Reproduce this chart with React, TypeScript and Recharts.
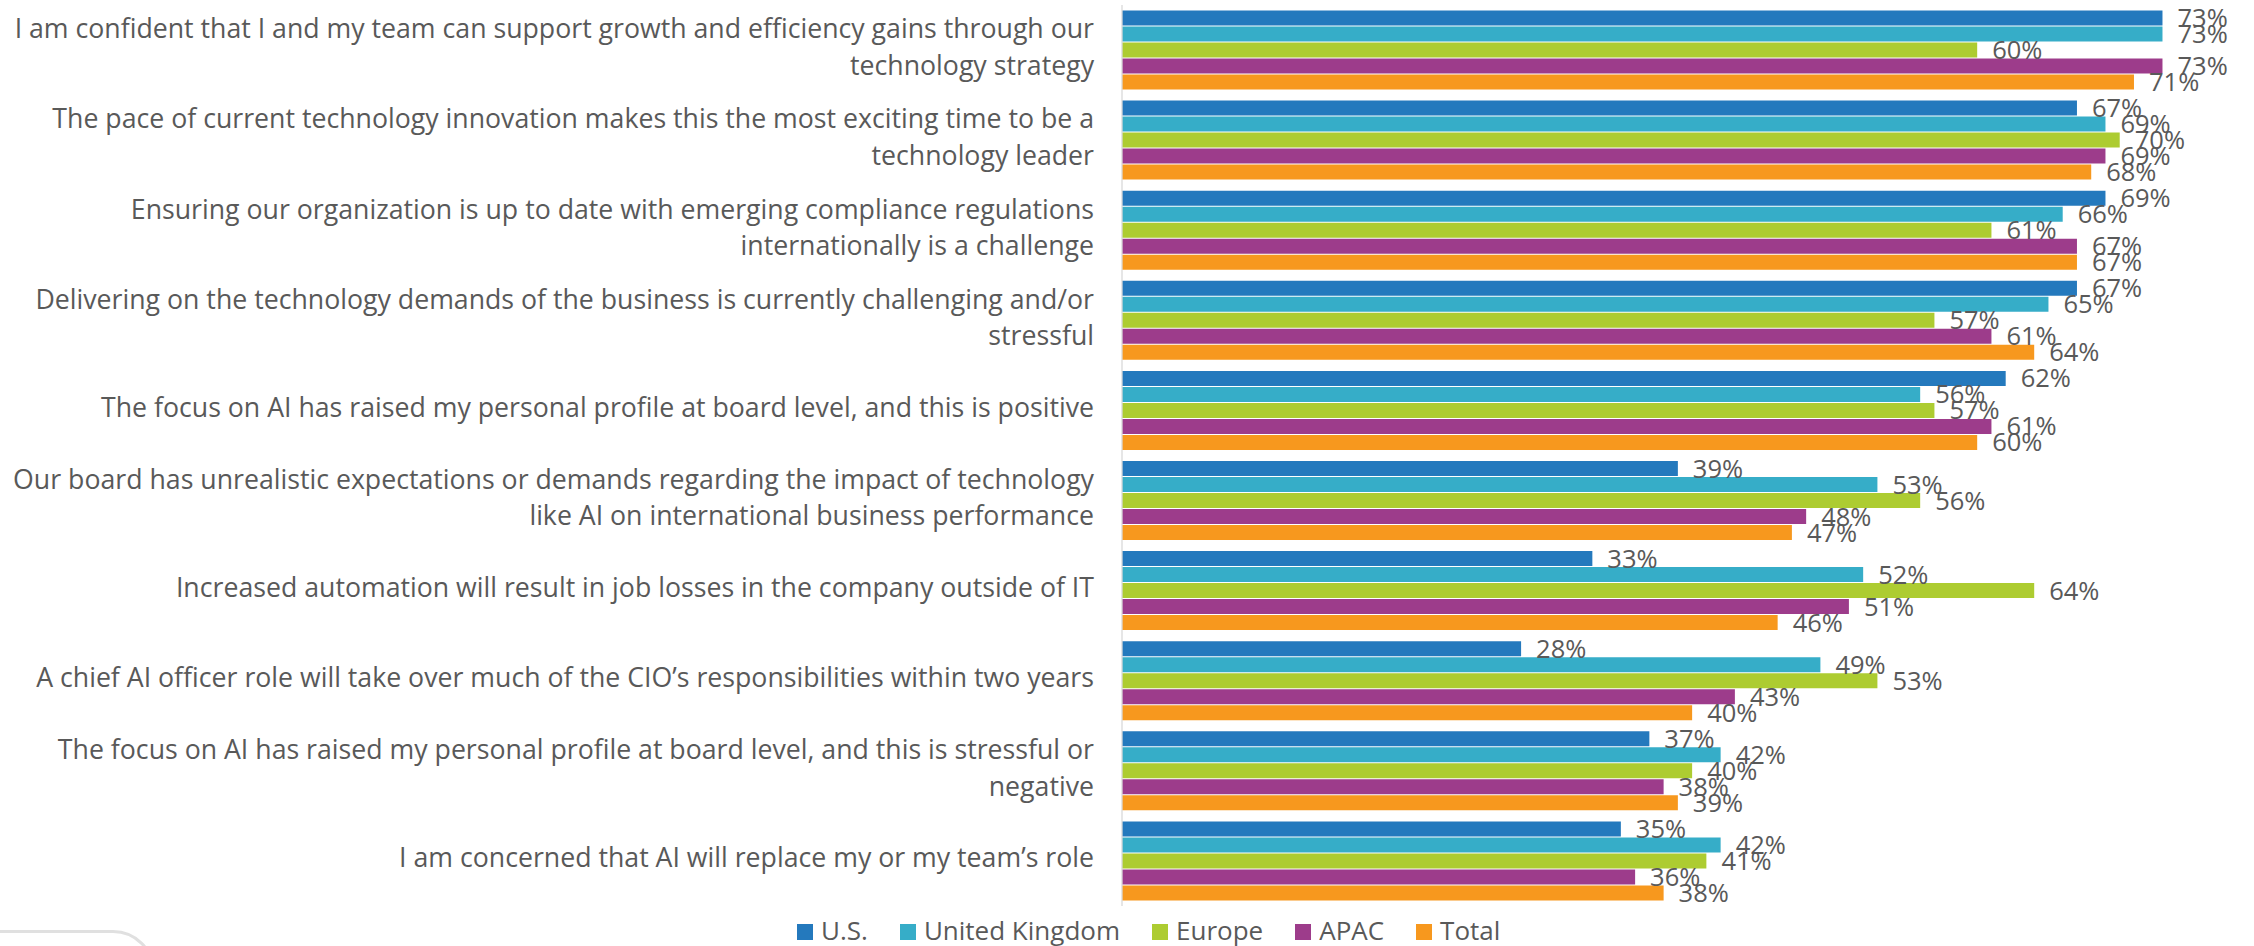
import React from 'react';
import { BarChart, Bar, XAxis, YAxis, Legend, LabelList } from 'recharts';

// statement text, already broken into the lines used on the axis
const categoryLines: string[][] = [
  ['I am confident that I and my team can support growth and efficiency gains through our', 'technology strategy'],
  ['The pace of current technology innovation makes this the most exciting time to be a', 'technology leader'],
  ['Ensuring our organization is up to date with emerging compliance regulations', 'internationally is a challenge'],
  ['Delivering on the technology demands of the business is currently challenging and/or', 'stressful'],
  ['The focus on AI has raised my personal profile at board level, and this is positive'],
  ['Our board has unrealistic expectations or demands regarding the impact of technology', 'like AI on international business performance'],
  ['Increased automation will result in job losses in the company outside of IT'],
  ['A chief AI officer role will take over much of the CIO\u2019s responsibilities within two years'],
  ['The focus on AI has raised my personal profile at board level, and this is stressful or', 'negative'],
  ['I am concerned that AI will replace my or my team\u2019s role'],
];
const categories = categoryLines.map((l) => l.join(' '));

const seriesKeys = ['us', 'uk', 'europe', 'apac', 'total'];
const seriesNames = ['U.S.', 'United Kingdom', 'Europe', 'APAC', 'Total'];
const seriesColors = ['#2479BD', '#36ADC8', '#ADCC31', '#9D3C8B', '#F7981E'];

const us = [73, 67, 69, 67, 62, 39, 33, 28, 37, 35];
const uk = [73, 69, 66, 65, 56, 53, 52, 49, 42, 42];
const europe = [60, 70, 61, 57, 57, 56, 64, 53, 40, 41];
const apac = [73, 69, 67, 61, 61, 48, 51, 43, 38, 36];
const total = [71, 68, 67, 64, 60, 47, 46, 40, 39, 38];

const seriesValues = [us, uk, europe, apac, total];

const data = categories.map((c, i) => {
  const row: any = { category: c };
  seriesKeys.forEach((k, s) => {
    row[k] = seriesValues[s][i];
  });
  return row;
});

const FONT = "'Open Sans', sans-serif";
const TEXT = '#595959';

const CategoryTick = (props: any) => {
  const { x, y, payload } = props;
  const idx = categories.indexOf(payload.value);
  const lines = idx >= 0 ? categoryLines[idx] : [String(payload.value)];
  const n = lines.length;
  return (
    <text x={x} y={y} textAnchor="end" fill={TEXT} fontSize={26.7} fontFamily={FONT}>
      {lines.map((line, i) => (
        <tspan key={i} x={x} y={y + 6.5 + (i - (n - 1) / 2) * 36.5}>
          {line}
        </tspan>
      ))}
    </text>
  );
};

const renderLegend = () => (
  <div
    style={{
      display: 'flex',
      alignItems: 'center',
      fontFamily: FONT,
      fontSize: 26,
      lineHeight: '30px',
      color: TEXT,
      whiteSpace: 'nowrap',
    }}
  >
    {seriesNames.map((name, i) => (
      <div key={name} style={{ display: 'flex', alignItems: 'center', marginRight: i < seriesNames.length - 1 ? 32 : 0 }}>
        <span
          style={{
            display: 'inline-block',
            width: 16,
            height: 16,
            background: seriesColors[i],
            marginRight: 8,
            position: 'relative',
            top: 2,
          }}
        />
        <span>{name}</span>
      </div>
    ))}
  </div>
);

export default function App() {
  return (
    <div style={{ position: 'fixed', left: 0, top: 0, width: 2254, height: 946, overflow: 'hidden', background: '#fff' }}>
      <BarChart
        width={2254}
        height={946}
        data={data}
        layout="vertical"
        margin={{ top: 5, right: 6, left: 0, bottom: 40 }}
        barCategoryGap={5.5}
        barGap={1}
      >
        <XAxis type="number" domain={[0, 79]} hide />
        <YAxis
          type="category"
          dataKey="category"
          width={1122}
          interval={0}
          tickLine={false}
          tickSize={0}
          tickMargin={28}
          axisLine={{ stroke: '#d9d9d9', strokeWidth: 1.3 }}
          tick={<CategoryTick />}
        />
        <Legend
          layout="horizontal"
          verticalAlign="middle"
          align="center"
          wrapperStyle={{ left: 797, top: 915, width: 760, height: 30 }}
          content={renderLegend}
        />
        {seriesKeys.map((k, i) => (
          <Bar key={k} dataKey={k} name={seriesNames[i]} fill={seriesColors[i]} isAnimationActive={false}>
            <LabelList
              dataKey={k}
              position="right"
              offset={15}
              fill={TEXT}
              fontSize={25.5}
              fontFamily={FONT}
              formatter={(v: any) => `${v}%`}
            />
          </Bar>
        ))}
      </BarChart>
      <div
        style={{
          position: 'absolute',
          left: -10,
          top: 930,
          width: 165,
          height: 60,
          boxSizing: 'border-box',
          border: '3px solid #e0e0e0',
          borderTopRightRadius: 42,
        }}
      />
    </div>
  );
}
